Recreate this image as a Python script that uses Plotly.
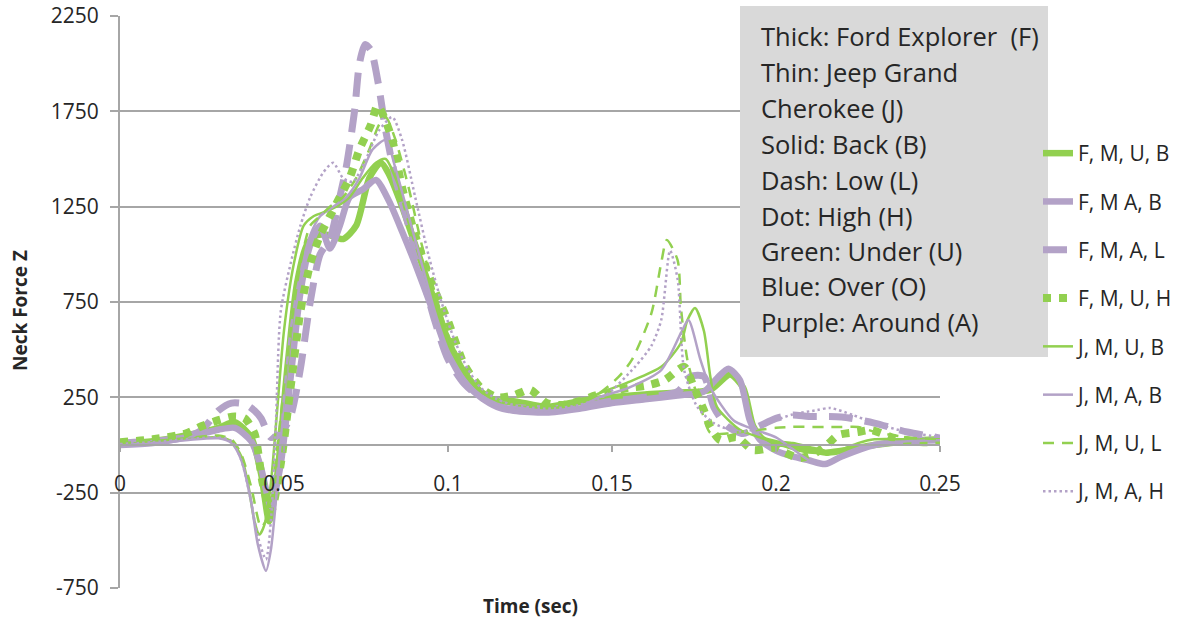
import plotly.graph_objects as go

# ---------------- data ----------------
# F, M, U, B  (thick green solid)
t_fmub = [0, 0.01, 0.02, 0.03, 0.035, 0.04, 0.043, 0.0455, 0.048, 0.051, 0.054, 0.057, 0.06, 0.064, 0.068, 0.072,
          0.076, 0.0795, 0.082, 0.086, 0.09, 0.095, 0.1, 0.105, 0.11, 0.115, 0.12, 0.13, 0.14, 0.15, 0.16, 0.17,
          0.18, 0.186, 0.19, 0.193, 0.196, 0.2, 0.205, 0.21, 0.215, 0.22, 0.23, 0.24, 0.25]
v_fmub = [10, 20, 50, 90, 120, 40, -150, -400, -150, 400, 850, 1050, 1100, 1100, 1080, 1150,
          1400, 1480, 1420, 1250, 1050, 800, 550, 380, 280, 230, 230, 200, 230, 250, 265, 275,
          290, 370, 300, 100, 30, 10, 0, -20, -40, -30, 0, 20, 30]

# F, M A, B  (thick purple solid)
t_fmab = [0, 0.01, 0.02, 0.025, 0.03, 0.035, 0.04, 0.043, 0.046, 0.049, 0.052, 0.055, 0.058, 0.061, 0.064,
          0.067, 0.07, 0.074, 0.078, 0.082, 0.086, 0.09, 0.095, 0.1, 0.105, 0.11, 0.115, 0.12, 0.13, 0.14,
          0.15, 0.16, 0.17, 0.178, 0.182, 0.1855, 0.189, 0.192, 0.195, 0.2, 0.205, 0.21, 0.215, 0.22, 0.23,
          0.24, 0.25]
v_fmab = [0, 10, 40, 60, 80, 90, 20, -120, -320, -100, 350, 800, 1050, 1150, 1030,
          1150, 1300, 1340, 1390, 1280, 1120, 950, 720, 480, 330, 250, 200, 180, 170, 190,
          220, 240, 260, 280, 350, 400, 340, 130, 30, -30, -60, -80, -100, -60, 0,
          20, 25]

# F, M, A, L  (thick purple dashed)
t_fmal = [0, 0.01, 0.02, 0.025, 0.03, 0.034, 0.038, 0.041, 0.043, 0.046, 0.049, 0.052, 0.055, 0.058, 0.061,
          0.064, 0.067, 0.069, 0.0715, 0.073, 0.0747, 0.0765, 0.0787, 0.081, 0.084, 0.088, 0.092, 0.096,
          0.1, 0.105, 0.11, 0.12, 0.13, 0.14, 0.15, 0.16, 0.17, 0.174, 0.178, 0.181, 0.185, 0.19, 0.195,
          0.2, 0.205, 0.21, 0.22, 0.23, 0.24, 0.25]
v_fmal = [10, 20, 40, 80, 180, 220, 215, 180, 140, 40, 60, 150, 400, 750, 1000,
          1080, 1300, 1460, 1750, 2000, 2100, 2070, 1900, 1650, 1400, 1150, 900, 650,
          450, 320, 250, 200, 190, 200, 230, 250, 280, 360, 360, 200, 100, 60, 100,
          140, 157, 150, 147, 115, 68, 37]

# F, M, U, H  (thick green dotted)
t_fmuh = [0, 0.01, 0.02, 0.025, 0.03, 0.035, 0.038, 0.041, 0.0435, 0.046, 0.049, 0.052, 0.055, 0.058,
          0.061, 0.064, 0.067, 0.07, 0.073, 0.0765, 0.0785, 0.0805, 0.083, 0.086, 0.09, 0.095, 0.1,
          0.105, 0.11, 0.115, 0.12, 0.125, 0.13, 0.135, 0.14, 0.145, 0.15, 0.155, 0.16, 0.166, 0.172,
          0.175, 0.178, 0.18, 0.183, 0.188, 0.193, 0.2, 0.203, 0.207, 0.211, 0.2155, 0.219, 0.225,
          0.229, 0.236, 0.244, 0.25]
v_fmuh = [15, 30, 60, 100, 130, 150, 140, 60, -200, -350, -100, 300, 700, 950,
          1100, 1200, 1300, 1400, 1550, 1680, 1780, 1720, 1600, 1350, 1100, 850, 650,
          420, 300, 250, 260, 290, 220, 210, 230, 260, 280, 300, 310, 340, 410,
          300, 183, 95, 26, 42, -26, -15, -42, -68, -52, 0, 52, 68,
          78, 37, 16, 16]

# J, M, U, B  (thin green solid)
t_jmub = [0, 0.01, 0.02, 0.03, 0.034, 0.037, 0.039, 0.041, 0.0425, 0.044, 0.046, 0.048, 0.05, 0.053,
          0.056, 0.059, 0.062, 0.066, 0.07, 0.074, 0.078, 0.081, 0.084, 0.088, 0.092, 0.096, 0.1,
          0.105, 0.11, 0.115, 0.12, 0.13, 0.14, 0.146, 0.155, 0.165, 0.171, 0.173, 0.1753, 0.178,
          0.18, 0.182, 0.189, 0.195, 0.2, 0.205, 0.21, 0.215, 0.2195, 0.225, 0.23, 0.24, 0.25]
v_jmub = [5, 15, 30, 40, 20, -60, -200, -400, -470, -420, -200, 200, 600, 950,
          1150, 1200, 1220, 1250, 1300, 1400, 1480, 1500, 1400, 1200, 950, 720, 520,
          370, 280, 230, 210, 190, 220, 270, 330, 410, 535, 655, 718, 600,
          357, 200, 80, 40, 10, -20, -40, -40, -26, 10, 30, 30, 25]

# J, M, A, B  (thin purple solid)
t_jmab = [0, 0.01, 0.02, 0.03, 0.034, 0.037, 0.04, 0.042, 0.0445, 0.046, 0.048, 0.05, 0.052, 0.055,
          0.058, 0.061, 0.065, 0.069, 0.073, 0.077, 0.081, 0.084, 0.088, 0.092, 0.096, 0.1, 0.105,
          0.11, 0.115, 0.12, 0.13, 0.14, 0.146, 0.155, 0.165, 0.171, 0.1733, 0.177, 0.18, 0.187,
          0.192, 0.2, 0.205, 0.21, 0.215, 0.22, 0.23, 0.24, 0.25]
v_jmab = [0, 10, 25, 35, 10, -80, -300, -520, -660, -550, -200, 250, 600, 900,
          1100, 1200, 1250, 1300, 1400, 1550, 1600, 1450, 1200, 950, 700, 500, 350,
          260, 210, 200, 180, 200, 250, 300, 393, 587, 655, 445, 300, 130,
          90, 40, -20, -80, -105, -60, 0, 20, 25]

# J, M, U, L  (thin green dashed)
t_jmul = [0, 0.01, 0.02, 0.03, 0.034, 0.037, 0.04, 0.043, 0.045, 0.047, 0.049, 0.052, 0.055, 0.058,
          0.061, 0.064, 0.068, 0.072, 0.076, 0.079, 0.081, 0.084, 0.088, 0.092, 0.096, 0.1, 0.105,
          0.11, 0.115, 0.12, 0.13, 0.14, 0.146, 0.152, 0.156, 0.162, 0.165, 0.1667, 0.17, 0.171,
          0.173, 0.177, 0.18, 0.185, 0.19, 0.195, 0.2, 0.205, 0.21, 0.215, 0.22, 0.225, 0.23,
          0.24, 0.25]
v_jmul = [10, 20, 35, 50, 30, -50, -220, -430, -380, -150, 150, 600, 950, 1150,
          1200, 1250, 1300, 1400, 1550, 1680, 1720, 1600, 1350, 1050, 800, 580, 400,
          290, 240, 220, 200, 230, 270, 357, 445, 690, 955, 1075, 970, 724,
          445, 200, 63, 60, 70, 80, 90, 95, 95, 95, 95, 95, 70,
          40, 30]

# J, M, A, H  (thin purple dotted)
t_jmah = [0, 0.01, 0.02, 0.03, 0.034, 0.037, 0.04, 0.042, 0.0445, 0.046, 0.0475, 0.049, 0.052, 0.055,
          0.058, 0.062, 0.065, 0.068, 0.071, 0.075, 0.079, 0.083, 0.086, 0.09, 0.094, 0.098, 0.102,
          0.106, 0.11, 0.115, 0.12, 0.13, 0.14, 0.148, 0.157, 0.162, 0.165, 0.1677, 0.17, 0.172,
          0.176, 0.181, 0.186, 0.19, 0.195, 0.2, 0.205, 0.2125, 0.2165, 0.2235, 0.23, 0.24, 0.25]
v_jmah = [5, 15, 30, 40, 20, -80, -300, -480, -600, -400, 100, 700, 950, 1150,
          1300, 1430, 1480, 1400, 1380, 1500, 1650, 1720, 1600, 1300, 1000, 750, 550,
          400, 300, 240, 210, 190, 210, 260, 410, 520, 655, 1020, 870, 393,
          200, 115, 80, 70, 90, 130, 160, 183, 194, 157, 115, 68, 42]

series_names = ["F, M, U, B", "F, M A, B", "F, M, A, L", "F, M, U, H",
                "J, M, U, B", "J, M, A, B", "J, M, U, L", "J, M, A, H"]

x_ticks = [0, 0.05, 0.1, 0.15, 0.2, 0.25]
x_ticktext = ["0", "0.05", "0.1", "0.15", "0.2", "0.25"]
y_ticks = [-750, -250, 250, 750, 1250, 1750, 2250]
y_ticktext = ["-750", "-250", "250", "750", "1250", "1750", "2250"]

note_lines = ["Thick: Ford Explorer  (F)", "Thin: Jeep Grand", "Cherokee (J)", "Solid: Back (B)",
              "Dash: Low (L)", "Dot: High (H)", "Green: Under (U)", "Blue: Over (O)",
              "Purple: Around (A)"]

# ---------------- styling ----------------
GREEN = "#92D050"
PURPLE = "#B3A2C7"
FONT = "Open Sans, sans-serif"
TXT = "#262626"
GRID = "#A6A6A6"

W, H = 1194, 628
L, R, T, B = 120, 940, 16, 588


def px_x(px):
    return (px - L) / (R - L)


def px_y(py):
    return (B - py) / (B - T)


styles = [
    dict(color=GREEN, width=6.5, dash="solid"),
    dict(color=PURPLE, width=6.5, dash="solid"),
    dict(color=PURPLE, width=7, dash="24px,12px"),
    dict(color=GREEN, width=8, dash="8px,8px"),
    dict(color=GREEN, width=2.5, dash="solid"),
    dict(color=PURPLE, width=2.5, dash="solid"),
    dict(color=GREEN, width=2.5, dash="11px,8px"),
    dict(color=PURPLE, width=2.5, dash="2.5px,3px"),
]

data = [(t_fmub, v_fmub), (t_fmab, v_fmab), (t_fmal, v_fmal), (t_fmuh, v_fmuh),
        (t_jmub, v_jmub), (t_jmab, v_jmab), (t_jmul, v_jmul), (t_jmah, v_jmah)]

fig = go.Figure()
for i, ((t, v), name, st) in enumerate(zip(data, series_names, styles)):
    fig.add_trace(go.Scatter(
        x=t, y=v, name=name, mode="lines", legendgroup=f"g{i}",
        line=dict(color=st["color"], width=st["width"], dash=st["dash"],
                  shape="spline", smoothing=0.7),
    ))

shapes = [dict(type="rect", xref="paper", yref="paper",
               x0=px_x(740), x1=px_x(1048), y0=px_y(357), y1=px_y(6),
               fillcolor="#D9D9D9", line=dict(width=0), layer="above")]

line_y = [36, 72, 108, 144, 180, 216, 251, 286, 322]
annotations = []
for txt, yy in zip(note_lines, line_y):
    annotations.append(dict(text=txt, xref="paper", yref="paper", x=px_x(759), y=px_y(yy),
                            xanchor="left", yanchor="middle", showarrow=False,
                            font=dict(family=FONT, size=25.5, color=TXT)))

annotations.append(dict(text="<b>Time (sec)</b>", xref="paper", yref="paper",
                        x=px_x(530), y=px_y(606), xanchor="center", yanchor="middle",
                        showarrow=False, font=dict(family=FONT, size=19, color=TXT)))
annotations.append(dict(text="<b>Neck Force Z</b>", xref="paper", yref="paper",
                        x=px_x(20), y=px_y(311), xanchor="center", yanchor="middle",
                        textangle=-90, showarrow=False,
                        font=dict(family=FONT, size=19, color=TXT)))

fig.update_layout(
    width=W, height=H,
    margin=dict(l=L, r=W - R, t=T, b=H - B, autoexpand=False),
    paper_bgcolor="white", plot_bgcolor="white",
    font=dict(family=FONT, color=TXT),
    showlegend=True,
    legend=dict(x=px_x(1038), y=px_y(133), xanchor="left", yanchor="top",
                font=dict(family=FONT, size=21, color=TXT),
                bgcolor="rgba(0,0,0,0)", tracegroupgap=18, itemwidth=30),
    xaxis=dict(range=[0, 0.25], tickvals=x_ticks, ticktext=x_ticktext,
               anchor="free", position=0.25, showline=True, linecolor=GRID, linewidth=2,
               ticks="outside", ticklen=6, tickcolor=GRID, tickwidth=1.5,
               showgrid=False, zeroline=False, ticklabelstandoff=14, automargin=False,
               tickfont=dict(family=FONT, size=21, color=TXT)),
    yaxis=dict(range=[-750, 2250], tickvals=y_ticks, ticktext=y_ticktext,
               showline=True, linecolor=GRID, linewidth=2,
               ticks="outside", ticklen=8, tickcolor=GRID, tickwidth=1.5,
               showgrid=True, gridcolor=GRID, gridwidth=2, zeroline=False,
               ticklabelstandoff=7, automargin=False,
               tickfont=dict(family=FONT, size=21, color=TXT)),
    shapes=shapes,
    annotations=annotations,
)

fig.write_html("out.html", config={"displayModeBar": False},
               post_script="document.body.style.margin='0px';")
